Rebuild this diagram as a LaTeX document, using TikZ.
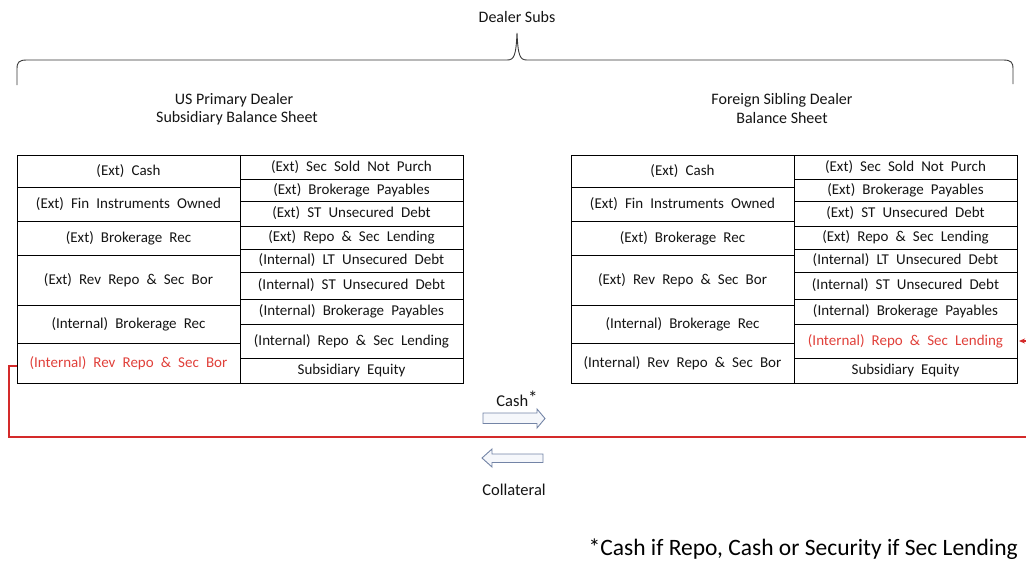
\documentclass[tikz,border=0pt]{standalone}
\usepackage{fontspec}
\setmainfont{Carlito}
\newfontfamily\cellfont{Carlito}[WordSpace=2.1]
\usetikzlibrary{arrows.meta}

\definecolor{ink}{HTML}{141414}
\definecolor{linkred}{HTML}{D42A2A}
\definecolor{redtext}{HTML}{E0403A}
\definecolor{arrowedge}{HTML}{7384A6}
\definecolor{arrowfill}{HTML}{F5F7FB}

\tikzset{
  cell/.style={draw=black, line width=0.8pt, inner sep=0pt, outer sep=0pt,
    text=ink, font=\cellfont\fontsize{15}{18}\selectfont},
  hot/.style={text=redtext},
  plain/.style={},
  heading/.style={text=ink, inner sep=0pt, font=\fontsize{16}{19}\selectfont},
  flowlabel/.style={text=ink, inner sep=0pt, font=\fontsize{16.5}{19}\selectfont},
  footnote/.style={text=black, inner sep=0pt, font=\fontsize{23.5}{27}\selectfont},
  bracket/.style={draw=ink!85, line width=0.9pt},
  blockarrow/.style={draw=arrowedge, fill=arrowfill, line width=0.9pt, line join=miter},
  redlink/.style={draw=linkred, line width=1.1pt, -{Stealth[length=6pt,width=5pt]}}
}

% One balance sheet: #1 horizontal offset, #2 node-name prefix,
% #3 style of the last asset cell, #4 style of the internal repo liability cell
\newcommand\bsheet[4]{%
  \begin{scope}[xshift=#1]
    % assets
    \node[cell, minimum width=223, minimum height=32] (#2a1) at (128.5,171) {(Ext) Cash};
    \node[cell, minimum width=223, minimum height=34] (#2a2) at (128.5,204) {(Ext) Fin Instruments Owned};
    \node[cell, minimum width=223, minimum height=34] (#2a3) at (128.5,238) {(Ext) Brokerage Rec};
    \node[cell, minimum width=223, minimum height=50] (#2a4) at (128.5,280) {(Ext) Rev Repo \& Sec Bor};
    \node[cell, minimum width=223, minimum height=38] (#2a5) at (128.5,324) {(Internal) Brokerage Rec};
    \node[cell, #3, minimum width=223, minimum height=40] (#2a6) at (128.5,363) {(Internal) Rev Repo \& Sec Bor};
    % liabilities and equity
    \node[cell, minimum width=223, minimum height=24] (#2l1) at (351.5,167) {(Ext) Sec Sold Not Purch};
    \node[cell, minimum width=223, minimum height=22] (#2l2) at (351.5,190) {(Ext) Brokerage Payables};
    \node[cell, minimum width=223, minimum height=25] (#2l3) at (351.5,213.5) {(Ext) ST Unsecured Debt};
    \node[cell, minimum width=223, minimum height=23] (#2l4) at (351.5,237.5) {(Ext) Repo \& Sec Lending};
    \node[cell, minimum width=223, minimum height=23] (#2l5) at (351.5,260.5) {(Internal) LT Unsecured Debt};
    \node[cell, minimum width=223, minimum height=27] (#2l6) at (351.5,285.5) {(Internal) ST Unsecured Debt};
    \node[cell, minimum width=223, minimum height=25] (#2l7) at (351.5,311.5) {(Internal) Brokerage Payables};
    \node[cell, #4, minimum width=223, minimum height=34] (#2l8) at (351.5,341) {(Internal) Repo \& Sec Lending};
    \node[cell, minimum width=223, minimum height=25] (#2l9) at (351.5,370.5) {Subsidiary Equity};
  \end{scope}}

\begin{document}
\begin{tikzpicture}[x=1pt, y=-1pt]
  \useasboundingbox (0,0) rectangle (1026,565);
  \clip (0,0) rectangle (1026,565);

  % group heading and brace
  \node[heading] (subs) at (517,17) {Dealer Subs};
  \draw[bracket] (17,85) -- (17,69) .. controls (17,62) and (19,60) .. (27,60)
    -- (507,60) .. controls (514,60) and (516,56) .. (517,33)
    .. controls (518,56) and (520,60) .. (527,60)
    -- (1003,60) .. controls (1011,60) and (1013,62) .. (1013,69) -- (1013,84);

  % sheet titles
  \node[heading] (ust1) at (234,100) {US Primary Dealer};
  \node[heading] (ust2) at (237,118) {Subsidiary Balance Sheet};
  \node[heading] (frt1) at (782,100) {Foreign Sibling Dealer};
  \node[heading] (frt2) at (782,118) {Balance Sheet};

  % the two balance sheets
  \bsheet{0pt}{L}{hot}{plain}
  \bsheet{554pt}{R}{plain}{hot}

  % cash and collateral flows
  \node[flowlabel] (cash) at (517,399) {Cash\raisebox{2pt}{\fontsize{19}{19}\selectfont*}};
  \draw[blockarrow] (483,413) -- (537,413) -- (537,409) -- (545,418.5)
    -- (537,428) -- (537,423.5) -- (483,423.5) -- cycle;
  \draw[blockarrow] (543,454) -- (492,454) -- (492,449) -- (482,458)
    -- (492,467) -- (492,462.5) -- (543,462.5) -- cycle;
  \node[flowlabel] (coll) at (514,490) {Collateral};

  % internal repo link between the two sheets
  \coordinate (loopR) at (1036,437);
  \draw[redlink] ([yshift=-3pt]La6.west) -- ++(-8pt,0) |- (loopR) |- ([xshift=2pt]Rl8.east);

  % footnote
  \node[footnote, anchor=east] (note) at (1018,549) {*Cash if Repo, Cash or Security if Sec Lending};
\end{tikzpicture}
\end{document}
